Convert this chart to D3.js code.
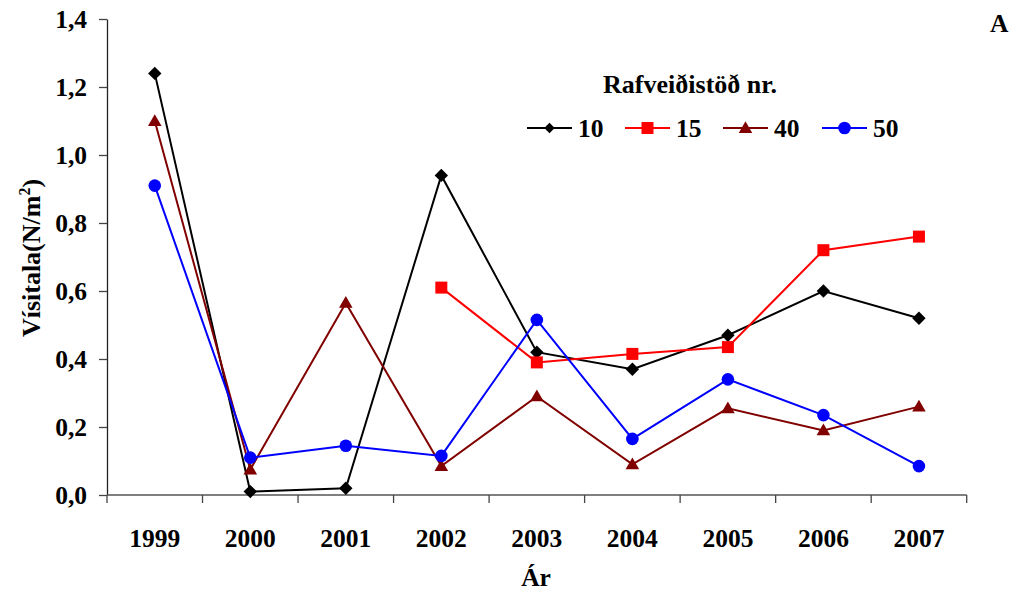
<!DOCTYPE html>
<html>
<head>
<meta charset="utf-8">
<script src="https://cdn.jsdelivr.net/npm/d3@7"></script>
<style>
  html, body { margin: 0; padding: 0; background: #fff; }
</style>
</head>
<body>
<svg id="chart" width="1015" height="591"></svg>
<script>
// Years on the horizontal axis
const years = ["1999", "2000", "2001", "2002", "2003", "2004", "2005", "2006", "2007"];

// Index values (N/m²) per power station number
const station10 = [1.24, 0.01, 0.02, 0.94, 0.42, 0.37, 0.47, 0.60, 0.52];
const station15 = [null, null, null, 0.61, 0.39, 0.415, 0.435, 0.72, 0.76];
const station40 = [1.10, 0.075, 0.565, 0.085, 0.29, 0.09, 0.255, 0.19, 0.26];
const station50 = [0.91, 0.11, 0.145, 0.115, 0.515, 0.165, 0.34, 0.235, 0.085];

const yTicks = [0, 0.2, 0.4, 0.6, 0.8, 1.0, 1.2, 1.4];
const legendLabels = ["10", "15", "40", "50"];

const series = [
  { name: legendLabels[0], values: station10, color: "#000000", shape: "diamond" },
  { name: legendLabels[1], values: station15, color: "#ff0000", shape: "square" },
  { name: legendLabels[2], values: station40, color: "#800000", shape: "triangle" },
  { name: legendLabels[3], values: station50, color: "#0000ff", shape: "circle" }
];

const FONT = "'Liberation Serif', 'Times New Roman', 'DejaVu Serif', serif";

const svg = d3.select("#chart")
  .style("font-family", FONT)
  .style("font-weight", "bold");
const plotLeft = 107, plotRight = 966.7, plotTop = 19, plotBottom = 495;

const x = d3.scaleBand().domain(years).range([plotLeft, plotRight]).padding(0);
const y = d3.scaleLinear().domain([0, 1.4]).range([plotBottom, plotTop]);
const cx = d => x(d) + x.bandwidth() / 2;

const fmt = v => d3.format(".1f")(v).replace(".", ",");

function label(sel, size) {
  return sel.style("font-family", FONT).style("font-weight", "bold")
    .style("font-size", size + "px").attr("fill", "#000");
}

// Y axis
const yAxis = svg.append("g")
  .attr("transform", `translate(${plotLeft},0)`)
  .call(d3.axisLeft(y).tickValues(yTicks).tickFormat(fmt).tickSize(8).tickSizeOuter(0).tickPadding(12));
yAxis.attr("font-family", null);
yAxis.select(".domain").attr("stroke", "#222").attr("stroke-width", 1.3);
yAxis.selectAll(".tick line").attr("stroke", "#444").attr("stroke-width", 1.3);
yAxis.selectAll(".tick text").call(label, 25.5);

// X axis: labels centred in each year, tick marks on year boundaries
const xAxis = svg.append("g")
  .attr("transform", `translate(0,${plotBottom})`)
  .call(d3.axisBottom(x).tickSize(0).tickSizeOuter(0).tickPadding(34));
xAxis.attr("font-family", null);
xAxis.select(".domain").remove();
xAxis.selectAll(".tick text").call(label, 25.5);

svg.append("line")
  .attr("x1", plotLeft).attr("x2", plotRight)
  .attr("y1", plotBottom).attr("y2", plotBottom)
  .attr("stroke", "#555").attr("stroke-width", 1.5);

const edges = years.map(d => x(d)).concat([x(years[years.length - 1]) + x.bandwidth()]);
svg.append("g").selectAll("line")
  .data(edges)
  .join("line")
  .attr("x1", d => d).attr("x2", d => d)
  .attr("y1", plotBottom).attr("y2", plotBottom + 8)
  .attr("stroke", "#444").attr("stroke-width", 1.3);

// Axis titles
svg.append("text")
  .attr("transform", `translate(40,258) rotate(-90)`)
  .attr("text-anchor", "middle")
  .call(label, 26)
  .html('Vísitala(N/m<tspan dy="-10" style="font-size:16px">2</tspan><tspan dy="10">)</tspan>');

svg.append("text")
  .attr("x", 536).attr("y", 586)
  .attr("text-anchor", "middle")
  .call(label, 25.5)
  .text("Ár");

svg.append("text")
  .attr("x", 990).attr("y", 32)
  .call(label, 25.5)
  .text("A");

// Marker shapes (the diamond is a rotated square)
const symbolTypes = {
  diamond: d3.symbolSquare,
  square: d3.symbolSquare,
  triangle: d3.symbolTriangle,
  circle: d3.symbolCircle
};
const symbolSizes = { diamond: 90, square: 144, triangle: 80, circle: 125 };

function markerAttrs(sel, s, scale) {
  sel.attr("d", d3.symbol().type(symbolTypes[s.shape]).size(symbolSizes[s.shape] * scale)())
    .attr("fill", s.color);
}

const line = d3.line()
  .defined(d => d.v !== null)
  .x(d => cx(d.year))
  .y(d => y(d.v));

series.forEach(s => {
  const pts = years.map((yr, i) => ({ year: yr, v: s.values[i] }));
  svg.append("path")
    .datum(pts)
    .attr("d", line)
    .attr("fill", "none")
    .attr("stroke", s.color)
    .attr("stroke-width", 2);
  svg.append("g").selectAll("path")
    .data(pts.filter(d => d.v !== null))
    .join("path")
    .call(markerAttrs, s, 1)
    .attr("transform", d => {
      const rot = s.shape === "diamond" ? " rotate(45)" : "";
      const dy = s.shape === "triangle" ? 1 : 0;
      return `translate(${cx(d.year)},${y(d.v) + dy})${rot}`;
    });
});

// Legend
svg.append("text")
  .attr("x", 690).attr("y", 93)
  .attr("text-anchor", "middle")
  .call(label, 26)
  .text("Rafveiðistöð nr.");

const legendX = [527, 625, 723, 822];
const legendY = 128;
series.forEach((s, i) => {
  const g = svg.append("g").attr("transform", `translate(${legendX[i]},${legendY})`);
  g.append("line").attr("x1", 0).attr("x2", 45).attr("y1", 0).attr("y2", 0)
    .attr("stroke", s.color).attr("stroke-width", 2);
  g.append("path")
    .call(markerAttrs, s, s.shape === "diamond" ? 0.6 : 1)
    .attr("transform", `translate(22.5,${s.shape === "triangle" ? 1 : 0})${s.shape === "diamond" ? " rotate(45)" : ""}`);
  g.append("text")
    .attr("x", 51).attr("y", 9)
    .call(label, 25.5)
    .text(s.name);
});
</script>
</body>
</html>
